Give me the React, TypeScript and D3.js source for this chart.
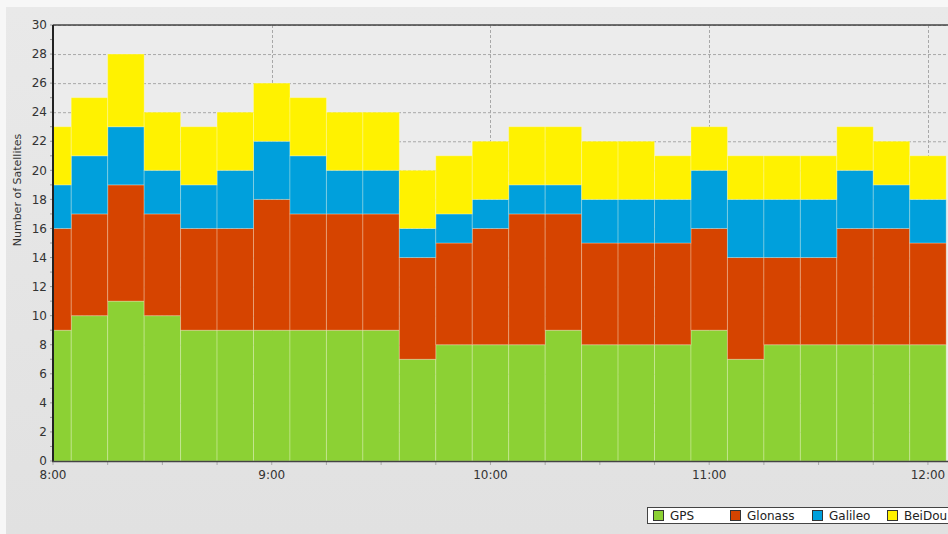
import React, { useEffect, useRef } from 'react';
import * as d3 from 'd3';

const times = [
    '8:00', '8:10', '8:20', '8:30', '8:40', '8:50',
    '9:00', '9:10', '9:20', '9:30', '9:40', '9:50',
    '10:00', '10:10', '10:20', '10:30', '10:40', '10:50',
    '11:00', '11:10', '11:20', '11:30', '11:40', '11:50',
    '12:00',
];

const gps = [9, 10, 11, 10, 9, 9, 9, 9, 9, 9, 7, 8, 8, 8, 9, 8, 8, 8, 9, 7, 8, 8, 8, 8, 8];
const glonass = [7, 7, 8, 7, 7, 7, 9, 8, 8, 8, 7, 7, 8, 9, 8, 7, 7, 7, 7, 7, 6, 6, 8, 8, 7];
const galileo = [3, 4, 4, 3, 3, 4, 4, 4, 3, 3, 2, 2, 2, 2, 2, 3, 3, 3, 4, 4, 4, 4, 4, 3, 3];
const beidou = [4, 4, 5, 4, 4, 4, 4, 4, 4, 4, 4, 4, 4, 4, 4, 4, 4, 3, 3, 3, 3, 3, 3, 3, 3];

const seriesNames = ['GPS', 'Glonass', 'Galileo', 'BeiDou'];
const seriesColors = ['#8cd134', '#d64400', '#00a0dc', '#fff200'];
const yTicks = d3.range(0, 31, 2);

const W = 948;
const H = 534;
const FONT = 'DejaVu Sans, sans-serif';

const parseTime = (s: string) => {
    const [h, m] = s.split(':').map(Number);
    return new Date(2020, 0, 1, h, m);
};

const App: React.FC = () => {
    const svgRef = useRef<SVGSVGElement | null>(null);

    useEffect(() => {
        if (svgRef.current) drawChart();
    }, []);

    const drawChart = () => {
        const svg = d3.select(svgRef.current);
        svg.selectAll('*').remove();

        const left = 53, top = 25, bottom = 461, right = 948;

        const rows = times.map((t, i) => ({
            t: parseTime(t),
            GPS: gps[i],
            Glonass: glonass[i],
            Galileo: galileo[i],
            BeiDou: beidou[i],
        }));

        const x = d3
            .scaleTime()
            .domain([parseTime('8:00'), new Date(2020, 0, 1, 12, 5, 30)])
            .range([left, right]);
        const y = d3.scaleLinear().domain([0, 30]).range([bottom, top]);

        const defs = svg.append('defs');
        const grad = defs
            .append('linearGradient')
            .attr('id', 'bg')
            .attr('x1', 0).attr('y1', 0).attr('x2', 0).attr('y2', 1);
        grad.append('stop').attr('offset', '0%').attr('stop-color', '#e9e9e9');
        grad.append('stop').attr('offset', '100%').attr('stop-color', '#e1e1e1');
        defs.append('clipPath')
            .attr('id', 'plot')
            .append('rect')
            .attr('x', left).attr('y', top)
            .attr('width', right - left).attr('height', bottom - top);

        svg.append('rect').attr('width', W).attr('height', H).attr('fill', '#f7f7f7');
        svg.append('rect')
            .attr('x', 6).attr('y', 7)
            .attr('width', W - 6).attr('height', H - 7)
            .attr('fill', 'url(#bg)');
        svg.append('rect')
            .attr('x', left).attr('y', top)
            .attr('width', right - left).attr('height', bottom - top)
            .attr('fill', '#ececec');

        // grid
        const grid = svg.append('g').attr('stroke', '#a8a8a8').attr('stroke-dasharray', '3,2');
        grid.selectAll('.hy')
            .data(yTicks.slice(1))
            .enter()
            .append('line')
            .attr('x1', left).attr('x2', right)
            .attr('y1', (d) => y(d) + 0.5).attr('y2', (d) => y(d) + 0.5);
        grid.selectAll('.vx')
            .data(x.ticks(d3.timeHour.every(1)!).slice(1))
            .enter()
            .append('line')
            .attr('x1', (d) => Math.round(x(d)) + 0.5).attr('x2', (d) => Math.round(x(d)) + 0.5)
            .attr('y1', top).attr('y2', bottom);

        // stacked step bars
        const stack = d3.stack<any>().keys(seriesNames);
        const layers = stack(rows);

        const bars = svg.append('g').attr('clip-path', 'url(#plot)');
        layers.forEach((layer, li) => {
            bars.append('g')
                .attr('fill', seriesColors[li])
                .selectAll('rect')
                .data(layer)
                .enter()
                .append('rect')
                .attr('x', (d) => x(d3.timeMinute.offset(d.data.t, -5)))
                .attr('width', (d) => x(d3.timeMinute.offset(d.data.t, 5)) - x(d3.timeMinute.offset(d.data.t, -5)))
                .attr('y', (d) => y(d[1]))
                .attr('height', (d) => y(d[0]) - y(d[1]))
                .attr('stroke', 'rgba(255,255,230,0.28)')
                .attr('stroke-width', 1);
        });

        // frame
        svg.append('line')
            .attr('x1', left).attr('x2', right)
            .attr('y1', top).attr('y2', top)
            .attr('stroke', '#444').attr('stroke-width', 1.5);

        // y axis
        const yAxis = svg.append('g');
        yAxis.selectAll('.minor')
            .data(d3.range(0, 31, 1))
            .enter()
            .append('line')
            .attr('x1', left - 3).attr('x2', left)
            .attr('y1', (d) => y(d)).attr('y2', (d) => y(d))
            .attr('stroke', '#999');
        yAxis.selectAll('text')
            .data(yTicks)
            .enter()
            .append('text')
            .attr('x', left - 6)
            .attr('y', (d) => y(d))
            .attr('dy', '0.35em')
            .attr('text-anchor', 'end')
            .style('font-family', FONT)
            .style('font-size', '12px')
            .attr('fill', '#333')
            .text((d) => d);
        yAxis.append('line')
            .attr('x1', left).attr('x2', left)
            .attr('y1', top).attr('y2', bottom + 1)
            .attr('stroke', '#222').attr('stroke-width', 2);

        // x axis
        const xAxis = svg.append('g');
        xAxis.selectAll('.minor')
            .data(x.ticks(d3.timeMinute.every(15)!))
            .enter()
            .append('line')
            .attr('x1', (d) => x(d)).attr('x2', (d) => x(d))
            .attr('y1', bottom).attr('y2', bottom + 4)
            .attr('stroke', '#aaa');
        xAxis.selectAll('text')
            .data(x.ticks(d3.timeHour.every(1)!))
            .enter()
            .append('text')
            .attr('x', (d) => x(d))
            .attr('y', bottom + 18)
            .attr('text-anchor', 'middle')
            .style('font-family', FONT)
            .style('font-size', '12px')
            .attr('fill', '#333')
            .text((d) => d3.timeFormat('%-H:%M')(d));
        xAxis.append('line')
            .attr('x1', left - 1).attr('x2', right)
            .attr('y1', bottom + 0.5).attr('y2', bottom + 0.5)
            .attr('stroke', '#444').attr('stroke-width', 1.5);

        // y title
        svg.append('text')
            .attr('transform', `translate(21,190) rotate(-90)`)
            .attr('text-anchor', 'middle')
            .style('font-family', FONT)
            .style('font-size', '11px')
            .attr('fill', '#333')
            .text('Number of Satellites');

        // legend
        const lg = svg.append('g').attr('transform', 'translate(647,507)');
        lg.append('rect')
            .attr('x', 0.5).attr('y', 0.5)
            .attr('width', 320).attr('height', 16)
            .attr('fill', '#fff').attr('stroke', '#444');
        const itemX = [6, 83, 165, 240];
        seriesNames.forEach((name, i) => {
            lg.append('rect')
                .attr('x', itemX[i] + 0.5).attr('y', 3.5)
                .attr('width', 10).attr('height', 10)
                .attr('fill', seriesColors[i]).attr('stroke', '#333');
            lg.append('text')
                .attr('x', itemX[i] + 17)
                .attr('y', 13)
                .style('font-family', FONT)
                .style('font-size', '12px')
                .attr('fill', '#222')
                .text(name);
        });
    };

    return (
        <svg
            ref={svgRef}
            width={W}
            height={H}
            style={{ position: 'absolute', left: 0, top: 0 }}
        ></svg>
    );
};

export default App;
